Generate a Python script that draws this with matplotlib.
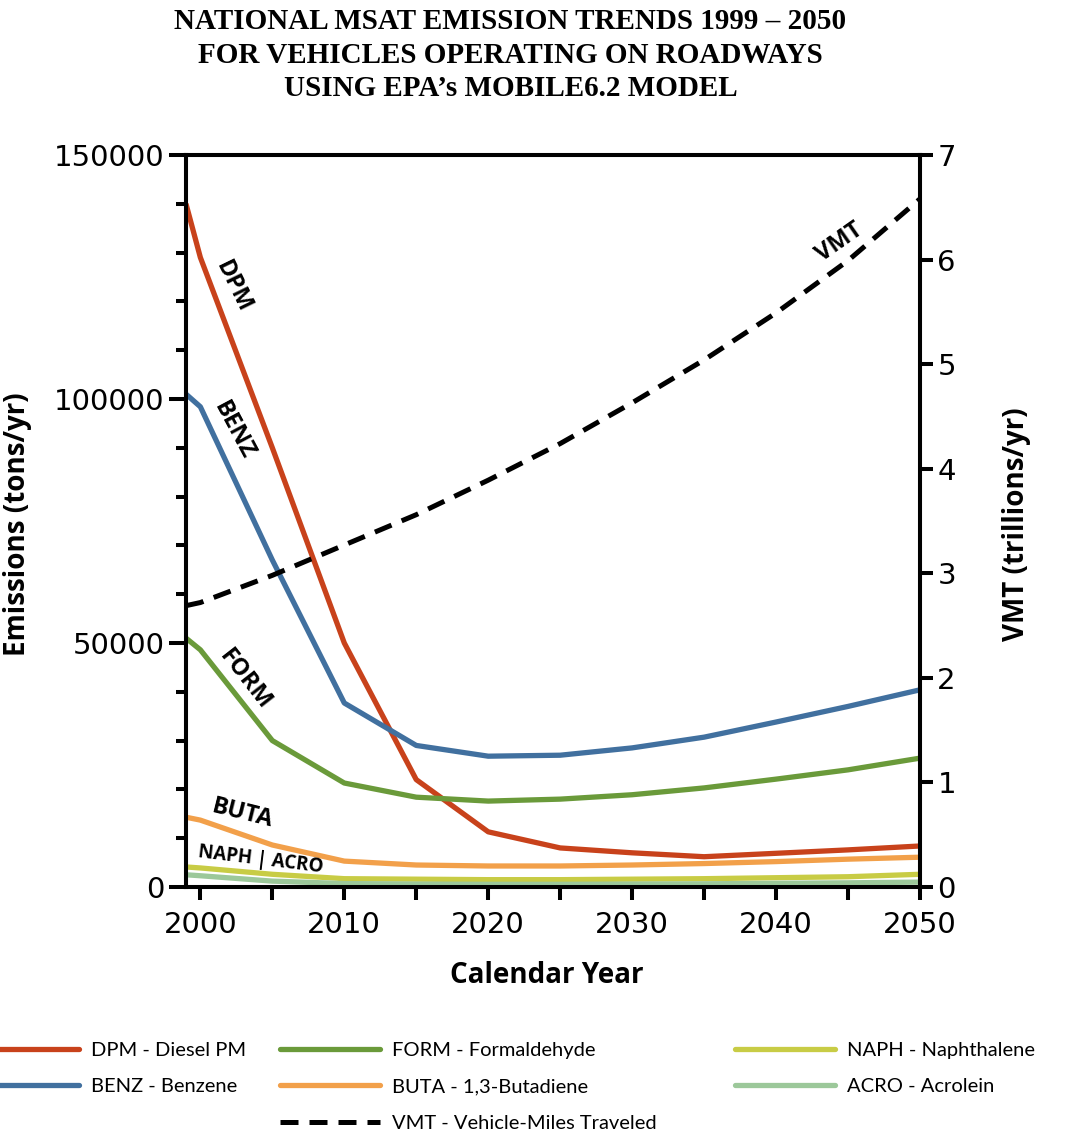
import matplotlib
matplotlib.use('Agg')
from matplotlib import pyplot as plt
from matplotlib.lines import Line2D
from matplotlib.ticker import MultipleLocator

# MOBILE6.2 national MSAT emissions (tons/yr) and VMT (trillions/yr)
years = [1999, 2000, 2005, 2010, 2015, 2020, 2025, 2030, 2035, 2040, 2045, 2050]
dpm = [140000, 129000, 90000, 50000, 22000, 11300, 8000, 7000, 6200, 6900, 7600, 8400]
benz = [101000, 98400, 67000, 37700, 29000, 26800, 27000, 28500, 30700, 33800, 37000, 40400]
form = [51000, 48600, 30000, 21300, 18400, 17600, 18000, 18900, 20300, 22100, 24000, 26400]
buta = [14300, 13700, 8600, 5300, 4500, 4300, 4300, 4500, 4800, 5200, 5700, 6100]
naph = [4100, 3900, 2600, 1700, 1600, 1500, 1500, 1600, 1700, 1900, 2100, 2600]
acro = [2500, 2300, 1200, 700, 600, 550, 550, 600, 650, 750, 850, 1000]
vmt = [2.69, 2.72, 2.98, 3.27, 3.56, 3.89, 4.24, 4.63, 5.04, 5.49, 5.99, 6.58]

series = [
    ('DPM - Diesel PM', dpm, '#c8421b'),
    ('BENZ - Benzene', benz, '#41709f'),
    ('FORM - Formaldehyde', form, '#6a9a3a'),
    ('BUTA - 1,3-Butadiene', buta, '#f2a04a'),
    ('NAPH - Naphthalene', naph, '#c8cc45'),
    ('ACRO - Acrolein', acro, '#9cc89a'),
]

fig = plt.figure(figsize=(10.7, 11.37), dpi=100)
ax = fig.add_axes([0.1738, 0.2199, 0.686, 0.6438])
ax2 = ax.twinx()

for name, vals, color in series:
    ax.plot(years, vals, color=color, lw=3.8, solid_capstyle='butt', zorder=3)
ax2.plot(years, vmt, color='black', lw=3.6, dashes=(3.6, 2.2))

ax.set_xlim(1999, 2050)
ax.set_ylim(0, 150000)
ax2.set_ylim(0, 7)

ax.set_xticks(range(2000, 2051, 5))
ax.set_xticklabels([str(y) if y % 10 == 0 else '' for y in range(2000, 2051, 5)])
ax.yaxis.set_major_locator(MultipleLocator(50000))
ax.yaxis.set_minor_locator(MultipleLocator(10000))
ax2.yaxis.set_major_locator(MultipleLocator(1))

for a in (ax, ax2):
    for s in a.spines.values():
        s.set_linewidth(2.9)
ax.tick_params(axis='both', which='major', labelsize=21, width=2.9, length=11, direction='out')
ax.tick_params(axis='y', which='major', length=12)
ax.tick_params(axis='y', which='minor', width=2.9, length=7)
ax.tick_params(axis='x', which='major', length=9, pad=8)
ax2.tick_params(axis='y', labelsize=21, width=2.9, length=9, direction='out')

lab_font = dict(family='Open Sans', fontweight='bold', fontsize=20)
ax.set_ylabel('Emissions (tons/yr)', **lab_font)
ax.yaxis.set_label_coords(-0.21, 0.495)
ax2.set_ylabel('VMT (trillions/yr)', **lab_font)
ax2.yaxis.set_label_coords(1.112, 0.495)
ax.set_xlabel('Calendar Year', **lab_font)
ax.xaxis.set_label_coords(0.492, -0.101)

# in-plot series labels
txt = dict(family='Open Sans', fontweight='bold', fontsize=17, ha='center', va='center')
ax.text(2002.3, 123000, 'DPM', rotation=-64, **txt)
ax.text(2002.3, 93600, 'BENZ', rotation=-62, **txt)
ax.text(2003.1, 42400, 'FORM', rotation=-52, **txt)
ax.text(2002.9, 15000, 'BUTA', rotation=-14, **txt)
ax.text(2004.2, 5600, 'NAPH | ACRO', rotation=-7, family='Open Sans', fontweight='bold',
        fontsize=13.5, ha='center', va='center')
ax2.text(2044.4, 6.16, 'VMT', rotation=35, **txt)

# title
title_font = dict(family='Liberation Serif', fontweight='bold', fontsize=21, ha='center', va='center')
fig.text(0.477, 0.981, 'NATIONAL MSAT EMISSION TRENDS 1999 \u2013 2050', **title_font)
fig.text(0.477, 0.951, 'FOR VEHICLES OPERATING ON ROADWAYS', **title_font)
fig.text(0.477, 0.922, 'USING EPA\u2019s MOBILE6.2 MODEL', **title_font)

# legend in three columns
leg_kw = dict(loc='upper left', frameon=False, borderpad=0, borderaxespad=0,
              handlelength=4.95, handletextpad=0.6, labelspacing=0.95,
              prop={'family': 'Lato', 'size': 14.5})

def handle(color, dashed=False):
    if dashed:
        return Line2D([], [], color='black', lw=3.6, dashes=(3.6, 2.2))
    return Line2D([], [], color=color, lw=3.8, solid_capstyle='round')

cols = [
    ([series[0], series[1]], -0.019),
    ([series[2], series[3]], 0.262),
    ([series[4], series[5]], 0.687),
]
for i, (items, x0) in enumerate(cols):
    hs = [handle(c) for _, _, c in items]
    ls = [n for n, _, _ in items]
    if i == 1:
        hs.append(handle('black', dashed=True))
        ls.append('VMT - Vehicle-Miles Traveled')
    fig.legend(hs, ls, bbox_to_anchor=(x0, 0.0835), **leg_kw)

fig.savefig('out.png', dpi=100)
